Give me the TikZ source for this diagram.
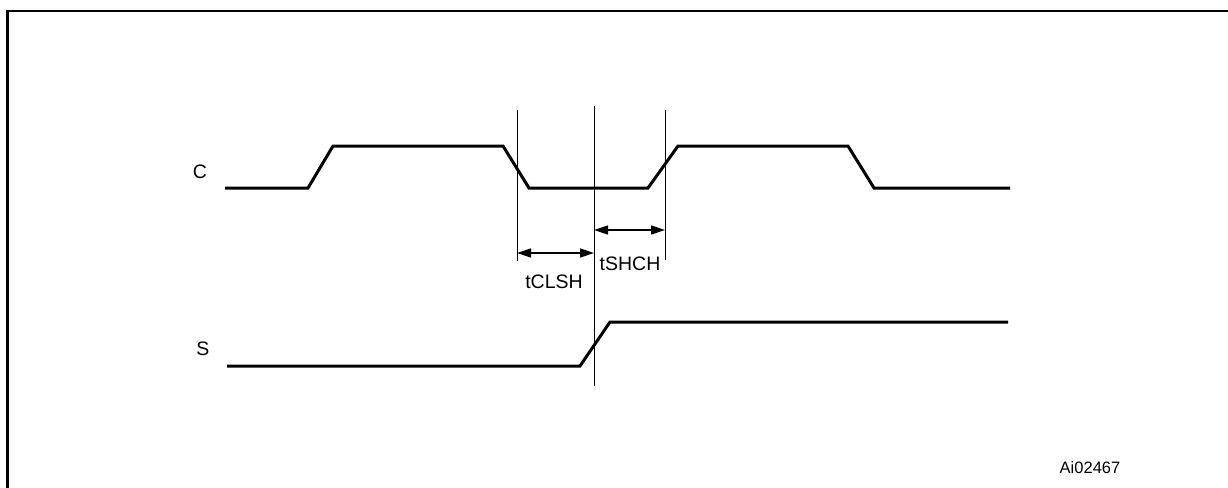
\documentclass[tikz,border=0pt]{standalone}
\usepackage{fontspec}
\setmainfont{Liberation Sans}
\usetikzlibrary{arrows.meta}
\begin{document}
\begin{tikzpicture}[x=1pt,y=-1pt,
  signal/.style={line width=3pt,line join=miter},
  guide/.style={line width=1pt},
  dim/.style={line width=1.4pt,{Triangle[length=14pt,width=9pt]}-{Triangle[length=14pt,width=9pt]}},
  lbl/.style={font=\fontsize{19.5}{22}\selectfont,inner sep=0pt},
  small/.style={font=\fontsize{16.5}{19}\selectfont,inner sep=0pt}]
\useasboundingbox (0,0) rectangle (1228,487);
\clip (0,0) rectangle (1228,487);
% frame
\draw[line width=2.4pt] (7.5,495) -- (7.5,11) -- (1235,11);
% C signal
\draw[signal] (225,188) -- (308,188) -- (333,146) -- (503,146) -- (529,188) -- (648,188) -- (678,146) -- (848,146) -- (874,188) -- (1010,188);
% S signal
\draw[signal] (227,366) -- (580,366) -- (610,322) -- (1008,322);
% guide lines
\coordinate (gl1) at (517,110); \coordinate (gl2) at (517,261);
\coordinate (gc1) at (594,106); \coordinate (gc2) at (594,386);
\coordinate (gr1) at (665,110); \coordinate (gr2) at (665,260);
\draw[guide] (gl1) -- (gl2);
\draw[guide] (gc1) -- (gc2);
\draw[guide] (gr1) -- (gr2);
% dimension arrows
\coordinate (a1) at (517,253); \coordinate (a2) at (594,253);
\coordinate (b1) at (594,230); \coordinate (b2) at (665,230);
\draw[dim] (a1) -- (a2);
\draw[dim] (b1) -- (b2);
% labels
\node[lbl] (tclsh) at (554,282) {tCLSH};
\node[lbl] (tshch) at (630,264) {tSHCH};
\node[lbl] (cl) at (200,172) {C};
\node[lbl] (sl) at (203,349) {S};
\node[small] (id) at (1090,468) {Ai02467};
\end{tikzpicture}
\end{document}
